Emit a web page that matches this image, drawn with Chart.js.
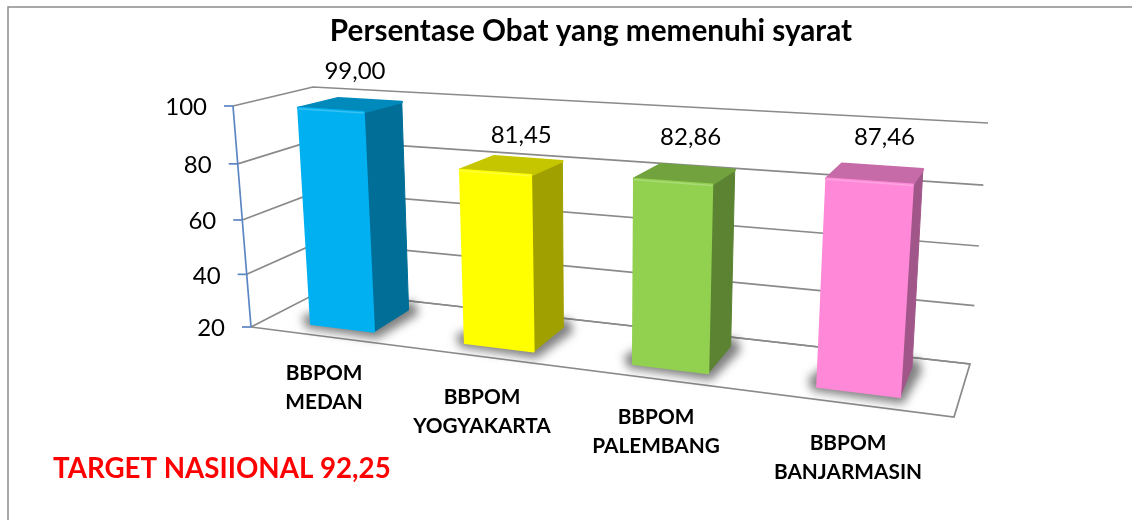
<!DOCTYPE html>
<html>
<head>
<meta charset="utf-8">
<style>
html,body{margin:0;padding:0;background:#fff;overflow:hidden}
canvas{display:block}
</style>
<script src="https://cdn.jsdelivr.net/npm/chart.js@4"></script>
</head>
<body>
<div style="width:1132px;height:520px"><canvas id="c" width="1132" height="520"></canvas></div>
<script>
const chartTitle = "Persentase Obat yang memenuhi syarat";
const targetNote = "TARGET NASIIONAL 92,25";
const categories = [["BBPOM","MEDAN"],["BBPOM","YOGYAKARTA"],["BBPOM","PALEMBANG"],["BBPOM","BANJARMASIN"]];
const values = [99.00, 81.45, 82.86, 87.46];
const valueLabels = ["99,00","81,45","82,86","87,46"];
const barColors = ["#00B0F0","#FFFF00","#92D050","#FF89D8"];
const FONT = 'Lato, "Open Sans", sans-serif';

// Projective calibration of the drawing planes: scale space (u = 0..1 across the
// category scale, v = value scale) to the perspective picture.
function homography(src, dst){
  const A=[],b=[];
  for(let i=0;i<4;i++){
    const [x,y]=src[i],[X,Y]=dst[i];
    A.push([x,y,1,0,0,0,-X*x,-X*y]);b.push(X);
    A.push([0,0,0,x,y,1,-Y*x,-Y*y]);b.push(Y);
  }
  for(let i=0;i<8;i++){
    let p=i;for(let r=i+1;r<8;r++)if(Math.abs(A[r][i])>Math.abs(A[p][i]))p=r;
    [A[i],A[p]]=[A[p],A[i]];[b[i],b[p]]=[b[p],b[i]];
    for(let r=i+1;r<8;r++){const f=A[r][i]/A[i][i];for(let c=i;c<8;c++)A[r][c]-=f*A[i][c];b[r]-=f*b[i];}
  }
  const h=new Array(8);
  for(let i=7;i>=0;i--){let s=b[i];for(let c=i+1;c<8;c++)s-=A[i][c]*h[c];h[i]=s/A[i][i];}
  return (x,y)=>{const w=h[6]*x+h[7]*y+1;return [(h[0]*x+h[1]*y+h[2])/w,(h[3]*x+h[4]*y+h[5])/w];};
}
const frontPlane = homography([[.0725,20],[.0725,100],[.9275,20],[.9275,100]],[[311,324],[298,105],[900,397],[915.5,143]]);
const backPlane  = homography([[.0725,20],[.0725,100],[.9275,20],[.9275,100]],[[347,303],[338,95.5],[912,367],[925,131]]);
const wallPlane  = homography([[0,20],[0,100],[1,20],[1,100]],[[321,291],[313,87],[970,364],[988,123]]);
const sideQuad   = homography([[0,20],[0,100],[1,20],[1,100]],[[251,327],[233,106],[321,291],[313,87]]);
// the side wall's value spacing is nearly even in the picture
const sidePlane  = (u,v)=>sideQuad(u,v+.00075*(v-20)*(100-v));

function poly(ctx,pts){ctx.beginPath();pts.forEach((p,i)=>i?ctx.lineTo(p[0],p[1]):ctx.moveTo(p[0],p[1]));ctx.closePath();}
function shade(hex,k){const n=parseInt(hex.slice(1),16);return `rgb(${((n>>16)&255)*k|0},${((n>>8)&255)*k|0},${(n&255)*k|0})`;}
function text(ctx,s,x,y,font,color,align){ctx.font=font;ctx.fillStyle=color;ctx.textAlign=align||'center';ctx.textBaseline='middle';ctx.fillText(s,x,y);}

// Bars: the library's bar geometry, seen through the perspective planes.
Chart.BarElement.prototype.draw = function(ctx){
  const chart=this.$context.chart, ca=chart.chartArea, ys=chart.scales.y;
  const u0=(this.x-this.width/2-ca.left)/ca.width, u1=(this.x+this.width/2-ca.left)/ca.width;
  const vT=ys.getValueForPixel(this.y), vB=ys.getValueForPixel(this.base);
  const col=this.options.backgroundColor;
  const fTL=frontPlane(u0,vT),fTR=frontPlane(u1,vT),fBL=frontPlane(u0,vB),fBR=frontPlane(u1,vB);
  const bTL=backPlane(u0,vT),bTR=backPlane(u1,vT),bBL=backPlane(u0,vB),bBR=backPlane(u1,vB);
  ctx.save();
  // soft floor shadow
  ctx.save();
  ctx.filter='blur(5px)';
  ctx.fillStyle='rgba(50,50,50,.62)';
  poly(ctx,[[fBL[0]-9,fBL[1]-8],[fBL[0]-5,fBL[1]+4],[fBR[0]+3,fBR[1]+7],[bBR[0]+10,bBR[1]+4],[bBR[0]+6,bBR[1]-8],[bBL[0],bBL[1]]]);
  ctx.fill();
  ctx.restore();
  ctx.lineJoin='round';
  // right side
  ctx.fillStyle=shade(col,.63);ctx.strokeStyle=shade(col,.63);ctx.lineWidth=1;
  poly(ctx,[fTR,bTR,bBR,fBR]);ctx.fill();ctx.stroke();
  // top
  ctx.fillStyle=shade(col,.78);ctx.strokeStyle=shade(col,.78);ctx.lineWidth=2.5;
  poly(ctx,[fTL,fTR,bTR,bTL]);ctx.fill();ctx.stroke();
  // front
  ctx.fillStyle=col;ctx.strokeStyle=col;ctx.lineWidth=2;
  poly(ctx,[fTL,fTR,fBR,fBL]);ctx.fill();ctx.stroke();
  // bevel light along the top front edge
  ctx.strokeStyle='rgba(255,255,255,.22)';ctx.lineWidth=1.5;
  ctx.beginPath();ctx.moveTo(fTL[0],fTL[1]+1);ctx.lineTo(fTR[0],fTR[1]+1);ctx.stroke();
  ctx.restore();
};

const perspectivePlugin={
  id:'perspective',
  beforeDatasetsDraw(chart){
    const ctx=chart.ctx, ys=chart.scales.y;
    ctx.save();
    // picture frame
    ctx.strokeStyle='#8c8c8c';ctx.lineWidth=1.5;
    ctx.beginPath();ctx.moveTo(8,520);ctx.lineTo(8,7);ctx.lineTo(1132,7);ctx.stroke();
    // wall gridlines
    ctx.strokeStyle='#8a8a8a';ctx.lineWidth=1.7;ctx.lineJoin='miter';
    ys.ticks.forEach(t=>{
      const a=sidePlane(0,t.value),b=sidePlane(1,t.value),c=wallPlane(1,t.value);
      ctx.beginPath();ctx.moveTo(a[0],a[1]);ctx.lineTo(b[0],b[1]);ctx.lineTo(c[0],c[1]);ctx.stroke();
    });
    // floor
    ctx.beginPath();
    const fl=sidePlane(0,ys.min),fr=sidePlane(1,ys.min),br=wallPlane(1,ys.min);
    ctx.moveTo(fr[0],fr[1]);ctx.lineTo(br[0],br[1]);ctx.lineTo(954,417);ctx.lineTo(fl[0],fl[1]);ctx.stroke();
    // value axis with ticks and labels
    ctx.strokeStyle='#5B86C4';ctx.lineWidth=1.7;
    const top=sidePlane(0,ys.max);
    ctx.beginPath();ctx.moveTo(top[0],top[1]);ctx.lineTo(fl[0],fl[1]);ctx.stroke();
    ys.ticks.forEach(t=>{
      const a=sidePlane(0,t.value);
      ctx.beginPath();ctx.moveTo(a[0]-9,a[1]);ctx.lineTo(a[0],a[1]);ctx.stroke();
      text(ctx,String(t.value),a[0]-26,a[1]+1.5,'24px '+FONT,'#000','right');
    });
    ctx.restore();
  },
  afterDatasetsDraw(chart){
    const ctx=chart.ctx, ca=chart.chartArea;
    const meta=chart.getDatasetMeta(0);
    const lift=[[-15,-29],[-7,-23],[-7,-30],[2,-29]];
    const catAt=[[324,373],[482,397],[656,417],[848,443]];
    ctx.save();
    meta.data.forEach((bar,i)=>{
      const u0=(bar.x-bar.width/2-ca.left)/ca.width,u1=(bar.x+bar.width/2-ca.left)/ca.width;
      const v=values[i];
      const l=backPlane(u0,v),r=backPlane(u1,v);
      text(ctx,valueLabels[i],(l[0]+r[0])/2+lift[i][0],(l[1]+r[1])/2+lift[i][1],'24px '+FONT,'#000');
      categories[i].forEach((line,k)=>{
        text(ctx,line,catAt[i][0],catAt[i][1]+k*29.5,'bold 20.8px '+FONT,'#000');
      });
    });
    text(ctx,targetNote,53,469,'bold 27.7px '+FONT,'#FF0000','left');
    ctx.restore();
  }
};

new Chart(document.getElementById('c'),{
  type:'bar',
  data:{labels:categories,datasets:[{label:chartTitle,data:values,base:20,backgroundColor:barColors,clip:false,barPercentage:.42,categoryPercentage:1}]},
  plugins:[perspectivePlugin],
  options:{
    responsive:false,animation:false,
    layout:{padding:{left:233,right:183,top:0,bottom:193}},
    plugins:{
      legend:{display:false},tooltip:{enabled:false},
      title:{display:true,text:chartTitle,fullSize:false,color:'#000',font:{family:FONT,size:29.7,weight:'bold',lineHeight:1.2},padding:{top:14,bottom:56.4}}
    },
    scales:{
      x:{display:false,grid:{display:false}},
      y:{display:false,min:20,max:100,ticks:{stepSize:20},grid:{display:false}}
    }
  }
});
</script>
</body>
</html>
